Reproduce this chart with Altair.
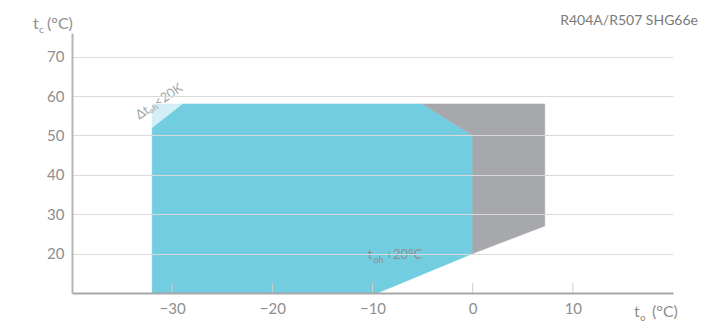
import altair as alt
import pandas as pd

# Envelope polygons (t0 in °C, tc in °C)
blue_x = [-32, -32, -29, -5, 0, 0, -9.5]
blue_y = [10, 52, 58, 58, 50, 20, 10]
grey_x = [-5, 7.2, 7.2, 0, 0]
grey_y = [58, 58, 27, 20, 50]
light_x = [-32, -32, -29]
light_y = [52, 58, 58]

x_ticks = [-30, -20, -10, 0, 10]
y_ticks = [20, 30, 40, 50, 60, 70]

FONT = "Lato"
LABEL = "#8E8E8E"

def poly(xs, ys):
    return pd.DataFrame({"x": xs, "y": ys, "i": list(range(len(xs)))})

xs = alt.Scale(domain=[-40, 20], nice=False, zero=False)
ys = alt.Scale(domain=[10, 76], nice=False, zero=False)

xax = alt.Axis(values=x_ticks, title=None, grid=False, ticks=False,
               domainColor="#A8A8A8", domainWidth=2, labelFontSize=15,
               labelColor=LABEL, labelPadding=8, labelFont=FONT, zindex=1)
yax = alt.Axis(values=y_ticks, title=None, grid=True, gridColor="#DADADA",
               gridWidth=1, ticks=False, domainColor="#B5B5B5", domainWidth=2,
               labelFontSize=15, labelColor=LABEL, labelPadding=8,
               labelFont=FONT, zindex=1)

X = lambda: alt.X("x:Q", scale=xs, axis=xax)
Y = lambda: alt.Y("y:Q", scale=ys, axis=yax)

def fill_poly(xs_, ys_, color):
    return alt.Chart(poly(xs_, ys_)).mark_line(
        fill=color, stroke=color, strokeWidth=0.5, interpolate="linear-closed"
    ).encode(x=X(), y=Y(), order="i:Q")

blue = fill_poly(blue_x, blue_y, "#72CDE0")
grey = fill_poly(grey_x, grey_y, "#A6A8AC")
light = fill_poly(light_x, light_y, "#D3EEF4")

ticks = alt.Chart(pd.DataFrame({"x": x_ticks})).mark_rule(
    color="#CFCFCF", strokeWidth=1
).encode(x=X(), y=alt.value(260), y2=alt.value(250))

def txt(text, x, y, size=16, align="left", color=LABEL, **kw):
    return alt.Chart(pd.DataFrame({"t": [text]})).mark_text(
        align=align, baseline="alphabetic", fontSize=size, font=FONT,
        color=color, **kw
    ).encode(x=alt.value(x), y=alt.value(y), text="t:N")

titles = [
    txt("t", -39, -4), txt("c", -33, 0, size=10), txt("(°C)", -25, -4),
    txt("t", 562, 284), txt("o", 568, 288, size=10), txt("(°C)", 580, 284),
    txt("R404A/R507 SHG66e", 626, -8, size=14, align="right", color="#7A7A7A"),
]

def dtxt(text, x, y, size=13, dx=0, dy=0, angle=0, align="left", baseline="middle", color="#8E8E8E"):
    return alt.Chart(pd.DataFrame({"x": [x], "y": [y], "t": [text]})).mark_text(
        align=align, baseline=baseline, fontSize=size, font=FONT, color=color,
        dx=dx, dy=dy, angle=angle
    ).encode(x=X(), y=Y(), text="t:N")

ann = [
    dtxt("Δtₒₕ<20K", -31.3, 58.6, size=13, angle=326, align="center", color="#A0A8AC"),
    dtxt("t", -10.5, 20, size=14, dy=1),
    dtxt("oh", -10.5, 20, size=9, dx=6, dy=6),
    dtxt("+20°C", -10.5, 20, size=13, dx=18, dy=1),
]

chart = alt.layer(blue, grey, light, ticks, *ann, *titles).properties(
    width=601, height=260,
    autosize=alt.AutoSizeParams(type="none"),
    padding={"left": 72, "top": 33, "right": 30, "bottom": 32},
).configure_view(stroke=None)

chart.save("out.html", embed_options={"renderer": "svg", "actions": False})
